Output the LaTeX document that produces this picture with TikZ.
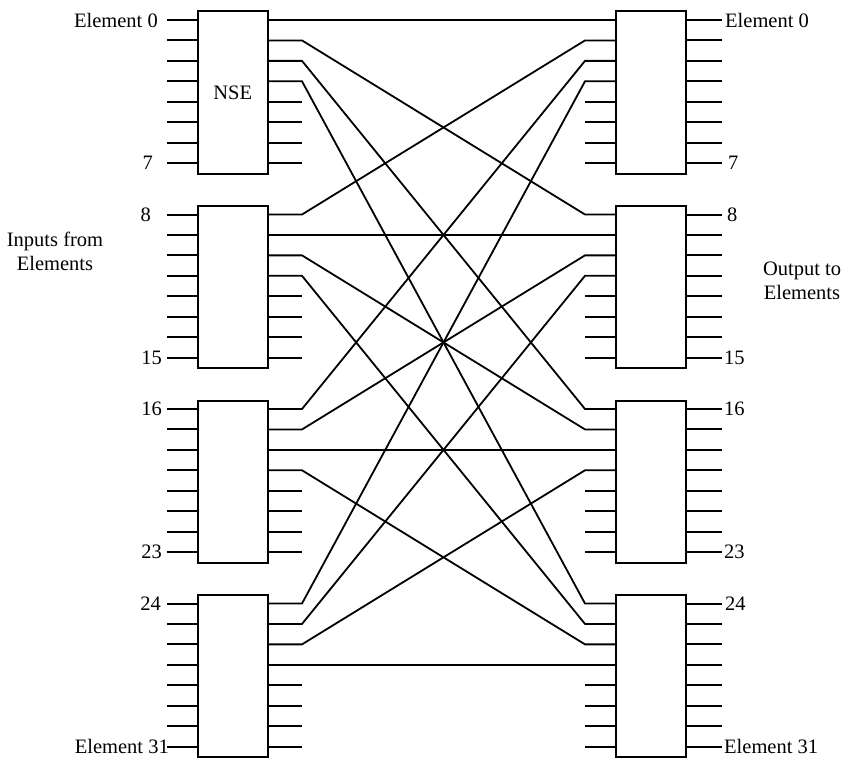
\documentclass[tikz,border=0pt]{standalone}
\usepackage{fontspec}
\setmainfont{Liberation Serif}
\begin{document}
\begin{tikzpicture}[x=1pt,y=-1pt,
  blk/.style={draw,line width=2pt,fill=white,minimum width=70.5pt,minimum height=162pt,inner sep=0pt,outer sep=0pt},
  wire/.style={line width=2pt},
  link/.style={line width=1.8pt,line join=miter},
  lab/.style={inner sep=0pt,font=\fontsize{20.5}{24}\selectfont}]
\useasboundingbox (0,0) rectangle (850,757);
% boxes
\foreach \b in {0,...,3}{
  \pgfmathsetmacro\cy{20+194.5*\b+72.5}
  \node[blk] (L\b) at (232.75,\cy) {};
  \node[blk] (R\b) at (651,\cy) {};
  \foreach \k in {0,...,7}{
    \pgfmathsetmacro\py{20+194.5*\b+20.43*\k}
    \coordinate (Lin-\b-\k) at (167,\py);
    \coordinate (Lo-\b-\k) at (268,\py);
    \coordinate (Lb-\b-\k) at (302,\py);
    \coordinate (Ri-\b-\k) at (615,\py);
    \coordinate (Rb-\b-\k) at (585,\py);
    \coordinate (Rout-\b-\k) at (722,\py);
  }
}
\node[lab] at (L0) {NSE};
% stubs
\foreach \b in {0,...,3}{
  \foreach \k in {0,...,7}{
    \draw[wire] (Lin-\b-\k) -- (Lin-\b-\k -| L\b.west);
    \draw[wire] (Rout-\b-\k -| R\b.east) -- (Rout-\b-\k);
  }
  \foreach \k in {4,...,7}{
    \draw[wire] (Lo-\b-\k -| L\b.east) -- (Lb-\b-\k);
    \draw[wire] (Rb-\b-\k) -- (Ri-\b-\k -| R\b.west);
  }
}
% interconnect
\foreach \i in {0,...,3}{
  \foreach \j in {0,...,3}{
    \ifnum\i=\j
      \draw[link] (Lo-\i-\j -| L\i.east) -- (Ri-\j-\i -| R\j.west);
    \else
      \draw[link] (Lo-\i-\j -| L\i.east) -- (Lb-\i-\j) -- (Rb-\j-\i) -- (Ri-\j-\i -| R\j.west);
    \fi
  }
}
% left labels
\node[lab,anchor=east] (l0) at ([xshift=-9pt]Lin-0-0) {Element 0};
\node[lab,anchor=east] (l7) at ([xshift=-14pt]Lin-0-7) {7};
\node[lab,anchor=east] (l8) at ([xshift=-16pt]Lin-1-0) {8};
\node[lab,anchor=east] (l15) at ([xshift=-5pt]Lin-1-7) {15};
\node[lab,anchor=east] (l16) at ([xshift=-5pt]Lin-2-0) {16};
\node[lab,anchor=east] (l23) at ([xshift=-5pt]Lin-2-7) {23};
\node[lab,anchor=east] (l24) at ([xshift=-6pt]Lin-3-0) {24};
\node[lab,anchor=east] (l31) at ([xshift=2pt]Lin-3-7) {Element 31};
% right labels
\node[lab,anchor=west] (r0) at ([xshift=3pt]Rout-0-0) {Element 0};
\node[lab,anchor=west] (r7) at ([xshift=6pt]Rout-0-7) {7};
\node[lab,anchor=west] (r8) at ([xshift=5pt]Rout-1-0) {8};
\node[lab,anchor=west] (r15) at ([xshift=2pt]Rout-1-7) {15};
\node[lab,anchor=west] (r16) at ([xshift=2pt]Rout-2-0) {16};
\node[lab,anchor=west] (r23) at ([xshift=2pt]Rout-2-7) {23};
\node[lab,anchor=west] (r24) at ([xshift=3pt]Rout-3-0) {24};
\node[lab,anchor=west] (r31) at ([xshift=2pt]Rout-3-7) {Element 31};
% side captions
\node[lab,align=center] (inp) at (55,251) {Inputs from\\Elements};
\node[lab,align=center] (outp) at (802,281) {Output to\\Elements};
\end{tikzpicture}
\end{document}
